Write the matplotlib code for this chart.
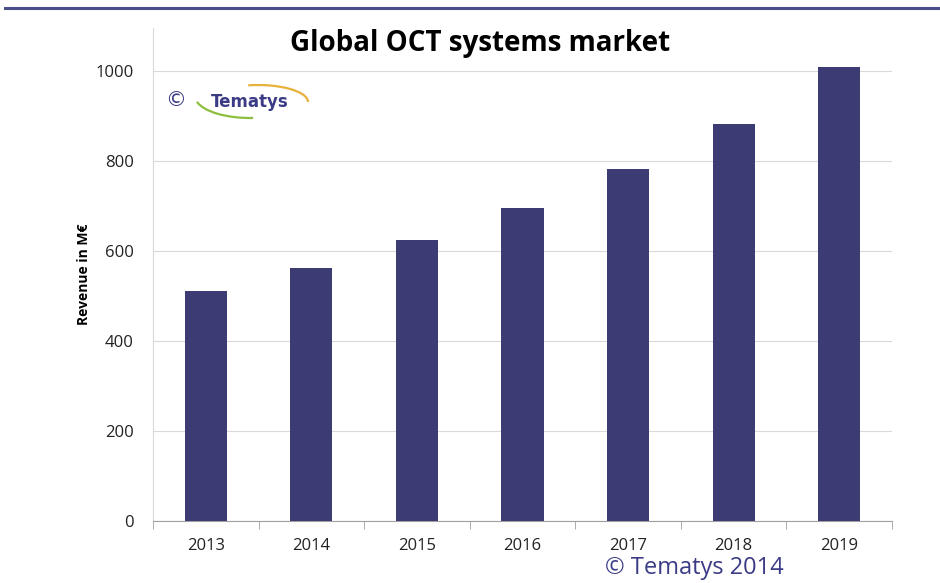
import matplotlib.pyplot as plt
from matplotlib.patches import Arc

years = ['2013', '2014', '2015', '2016', '2017', '2018', '2019']
revenue = [510, 563, 625, 696, 781, 882, 1009]

bar_color = '#3d3b73'

fig = plt.figure(figsize=(9.4, 5.83), dpi=100)
ax = fig.add_axes([153 / 940, 1 - 521 / 583, (892 - 153) / 940, (521 - 28) / 583])

ax.bar(years, revenue, width=0.4, color=bar_color, zorder=3)
ax.set_xlim(-0.5, 6.5)
ax.set_ylim(0, 1095)
ax.set_yticks([0, 200, 400, 600, 800, 1000])
ax.yaxis.grid(True, color='#d9d9d9', linewidth=0.8, zorder=0)
ax.tick_params(axis='y', length=0, labelsize=12, pad=14)
ax.tick_params(axis='x', length=0, labelsize=12, pad=12)
for t in ax.get_xticklabels() + ax.get_yticklabels():
    t.set_fontfamily('Open Sans')
    t.set_color('#222222')

# category separators on x axis
ax.set_xticks([i - 0.5 for i in range(8)], minor=True)
ax.tick_params(axis='x', which='minor', length=6, color='#a0a0a0', direction='out')

for side in ['top', 'right']:
    ax.spines[side].set_visible(False)
ax.spines['left'].set_color('#d9d9d9')
ax.spines['bottom'].set_color('#a0a0a0')

ax.set_ylabel('Revenue in M€', fontsize=10, fontweight='bold', fontfamily='Open Sans', labelpad=3)

fig.text(480 / 940, 1 - 44 / 583, 'Global OCT systems market', ha='center', va='center',
         fontsize=20, fontweight='bold', fontfamily='Open Sans')

# top rule
fig.add_artist(plt.Line2D([5 / 940, 1], [1 - 8 / 583, 1 - 8 / 583], color='#4a4f8c', linewidth=2.2))

# logo
fig.text(176 / 940, 1 - 100 / 583, '©', ha='center', va='center', fontsize=15,
         color='#3b3b86', fontfamily='DejaVu Sans')
fig.text(250 / 940, 1 - 102 / 583, 'Tematys', ha='center', va='center', fontsize=12,
         fontweight='bold', color='#3b3b86', fontfamily='DejaVu Sans')
fig.add_artist(Arc((258 / 940, 1 - 102 / 583), 100 / 940, 34 / 583, theta1=0, theta2=110,
                   color='#e8b13a', linewidth=1.6, transform=fig.transFigure))
fig.add_artist(Arc((250 / 940, 1 - 96 / 583), 110 / 940, 44 / 583, theta1=190, theta2=275,
                   color='#8cbf3f', linewidth=1.6, transform=fig.transFigure))

fig.text(694 / 940, 1 - 568 / 583, '© Tematys 2014', ha='center', va='center',
         fontsize=17, color='#3b3b86', fontfamily='Open Sans')

fig.savefig('out.png', dpi=100, facecolor='white')
